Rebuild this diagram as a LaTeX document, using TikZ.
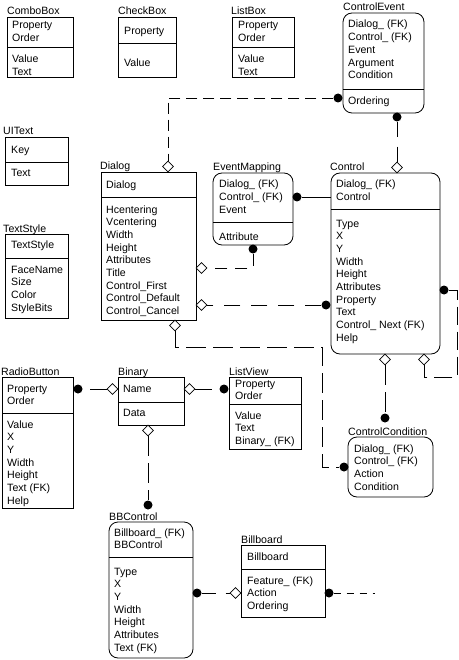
\documentclass[tikz,border=0pt]{standalone}
\usepackage{fontspec}
\setmainfont{Liberation Sans}
\usetikzlibrary{shapes.geometric}
\tikzset{
  box/.style={draw, line width=0.8pt, inner sep=0pt, outer sep=0pt, anchor=north west},
  rbox/.style={box, rounded corners=9pt},
  fld/.style={anchor=base west, inner sep=0pt, font=\fontsize{10.6}{12.7}\selectfont},
  lbl/.style={fld},
  dot/.style={circle, fill=black, inner sep=0pt, minimum size=9pt},
  dia/.style={diamond, draw, fill=white, line width=0.8pt, inner sep=0pt, aspect=1, minimum width=11pt, minimum height=11pt},
  rel/.style={line width=0.8pt},
  dA/.style={rel, dash pattern=on 11pt off 6pt},
  dB/.style={rel, dash pattern=on 15pt off 10pt},
  dC/.style={rel, dash pattern=on 12pt off 8pt},
  dD/.style={rel, dash pattern=on 16pt off 11pt},
  dE/.style={rel, dash pattern=on 20pt off 7pt},
  dF/.style={rel, dash pattern=on 18pt off 7pt},
  dG/.style={rel, dash pattern=on 17pt off 8pt},
  dH/.style={rel, dash pattern=on 14pt off 10pt},
  dI/.style={rel, dash pattern=on 7pt off 6pt},
}
\newcommand\flist[4]{\foreach \fx [count=\idx from 0] in {#4}{\node[fld] (#1\idx) at (#2,{#3+\idx*12.7}) {\fx};}}
\newcommand\hdiv[2]{\draw[line width=0.8pt] (#1.west |- 0,#2) -- (#1.east |- 0,#2);}
\begin{document}
\begin{tikzpicture}[x=1pt,y=-1pt]
\useasboundingbox (0,0) rectangle (458,660);
\fill[white] (0,0) rectangle (458,660);

% ComboBox
\node[lbl] (cbl) at (7,15) {ComboBox};
\node[box, minimum width=66pt, minimum height=60pt] (cb) at (7,17) {};
\hdiv{cb}{47}
\flist{cbk}{12}{29}{Property,Order}
\flist{cbv}{12}{63}{Value,Text}

% CheckBox
\node[lbl] (chl) at (118,15) {CheckBox};
\node[box, minimum width=58pt, minimum height=60pt] (ch) at (118,17) {};
\hdiv{ch}{43}
\flist{chk}{124}{35}{Property}
\flist{chv}{124}{67}{Value}

% ListBox
\node[lbl] (lbxl) at (231,15) {ListBox};
\node[box, minimum width=62pt, minimum height=60pt] (lbx) at (232,17) {};
\hdiv{lbx}{47}
\flist{lbxk}{238}{29}{Property,Order}
\flist{lbxv}{238}{63}{Value,Text}

% ControlEvent
\node[lbl] (cel) at (343,11) {ControlEvent};
\node[rbox, minimum width=81pt, minimum height=100pt] (ce) at (343,13) {};
\hdiv{ce}{89}
\flist{cek}{348}{28}{Dialog\_ (FK),Control\_ (FK),Event,Argument,Condition}
\flist{cev}{348}{105}{Ordering}

% UIText
\node[lbl] (uil) at (3,135) {UIText};
\node[box, minimum width=63pt, minimum height=48pt] (ui) at (5,137) {};
\hdiv{ui}{162}
\flist{uik}{11}{154}{Key}
\flist{uiv}{11}{177}{Text}

% TextStyle
\node[lbl] (tsl) at (3,232) {TextStyle};
\node[box, minimum width=63pt, minimum height=84pt] (ts) at (5,234) {};
\hdiv{ts}{258}
\flist{tsk}{11}{248}{TextStyle}
\flist{tsv}{11}{273}{FaceName,Size,Color,StyleBits}

% Dialog
\node[lbl] (dlgl) at (100,170) {Dialog};
\node[box, minimum width=95pt, minimum height=148pt] (dlg) at (101,172) {};
\hdiv{dlg}{197}
\flist{dlgk}{106}{189}{Dialog}
\flist{dlgv}{106}{213}{Hcentering,Vcentering,Width,Height,Attributes,Title,Control\_First,Control\_Default,Control\_Cancel}

% EventMapping
\node[lbl] (eml) at (213,171) {EventMapping};
\node[rbox, minimum width=80pt, minimum height=72pt] (em) at (213,173) {};
\hdiv{em}{222}
\flist{emk}{219}{188}{Dialog\_ (FK),Control\_ (FK),Event}
\flist{emv}{219}{240}{Attribute}

% Control
\node[lbl] (ctll) at (330,171) {Control};
\node[rbox, minimum width=109pt, minimum height=181pt] (ctl) at (331,173) {};
\hdiv{ctl}{209}
\flist{ctlk}{336}{188}{Dialog\_ (FK),Control}
\flist{ctlv}{336}{227}{Type,X,Y,Width,Height,Attributes,Property,Text,Control\_ Next (FK),Help}

% RadioButton
\node[lbl] (rbl) at (1,375) {RadioButton};
\node[box, minimum width=71pt, minimum height=131pt] (rb) at (2,377) {};
\hdiv{rb}{413}
\flist{rbk}{7}{392}{Property,Order}
\flist{rbv}{7}{428}{Value,X,Y,Width,Height,Text (FK),Help}

% Binary
\node[lbl] (binl) at (118,375) {Binary};
\node[box, minimum width=66pt, minimum height=48pt] (bin) at (118,377) {};
\hdiv{bin}{402}
\flist{bink}{123}{392}{Name}
\flist{binv}{123}{416}{Data}

% ListView
\node[lbl] (lvl) at (229,375) {ListView};
\node[box, minimum width=72pt, minimum height=72pt] (lv) at (229,377) {};
\hdiv{lv}{404}
\flist{lvk}{235}{387}{Property,Order}
\flist{lvv}{235}{419}{Value,Text,Binary\_ (FK)}

% ControlCondition
\node[lbl] (ccl) at (348,435) {ControlCondition};
\node[rbox, minimum width=85pt, minimum height=60pt] (cc) at (348,437) {};
\flist{cck}{354}{452}{Dialog\_ (FK),Control\_ (FK),Action,Condition}

% BBControl
\node[lbl] (bbcl) at (109,520) {BBControl};
\node[rbox, minimum width=84pt, minimum height=136pt] (bbc) at (109,522) {};
\hdiv{bbc}{557}
\flist{bbck}{114}{536}{Billboard\_ (FK),BBControl}
\flist{bbcv}{114}{575}{Type,X,Y,Width,Height,Attributes,Text (FK)}

% Billboard
\node[lbl] (bbl) at (241,543) {Billboard};
\node[box, minimum width=84pt, minimum height=72pt] (bb) at (241,545) {};
\hdiv{bb}{569}
\flist{bbk}{247}{560}{Billboard}
\flist{bbv}{247}{584}{Feature\_ (FK),Action,Ordering}

% connector ends
\node[dot] (dce1) at (338,98) {};
\node[dot] (dce2) at (397,117) {};
\node[dot] (dem1) at (297,197) {};
\node[dot] (dem2) at (253,249) {};
\node[dot] (dctlL) at (326,305) {};
\node[dot] (dctlR) at (444,290) {};
\node[dot] (dccL) at (344,467) {};
\node[dot] (dccT) at (385,418) {};
\node[dot] (drb) at (78,389) {};
\node[dot] (dlv) at (224,389) {};
\node[dot] (dbbcT) at (148,505) {};
\node[dot] (dbbcR) at (197,593) {};
\node[dot] (dbbR) at (329,593) {};

\node[dia] (mdlgT) at (168,166.5) {};
\node[dia] (mdlgR1) at (201.5,268) {};
\node[dia] (mdlgR2) at (201.5,305) {};
\node[dia] (mdlgB) at (175,325.5) {};
\node[dia] (mctlT) at (397,167.5) {};
\node[dia] (mctlB1) at (385,359.5) {};
\node[dia] (mctlB2) at (424,359.5) {};
\node[dia] (mbinL) at (112.5,389) {};
\node[dia] (mbinR) at (189.5,389) {};
\node[dia] (mbinB) at (148,430.5) {};
\node[dia] (mbbL) at (235.5,593) {};

\coordinate (cornerA) at (322,347);
\coordinate (cornerB) at (457,377);
\coordinate (freeEnd) at (375,593);

% connectors
\draw[dA] (dce1) -| (mdlgT);
\draw[dB] (dce2) -- (mctlT);
\draw[rel] (dem1) -- (dem1 -| ctl.west);
\draw[dC] (dem2) |- (mdlgR1);
\draw[dD] (dctlL) -- (mdlgR2);
\draw[dE] (mdlgB) |- (cornerA) |- (dccL);
\draw[dE] (mctlB1) -- (dccT);
\draw[dF] (dctlR) -| (cornerB) -| (mctlB2);
\draw[dG] (mbinL) -- (drb);
\draw[dG] (mbinR) -- (dlv);
\draw[dE] (mbinB) -- (dbbcT);
\draw[dH] (dbbcR) -- (mbbL);
\draw[dI] (dbbR) -- (freeEnd);
\end{tikzpicture}
\end{document}
